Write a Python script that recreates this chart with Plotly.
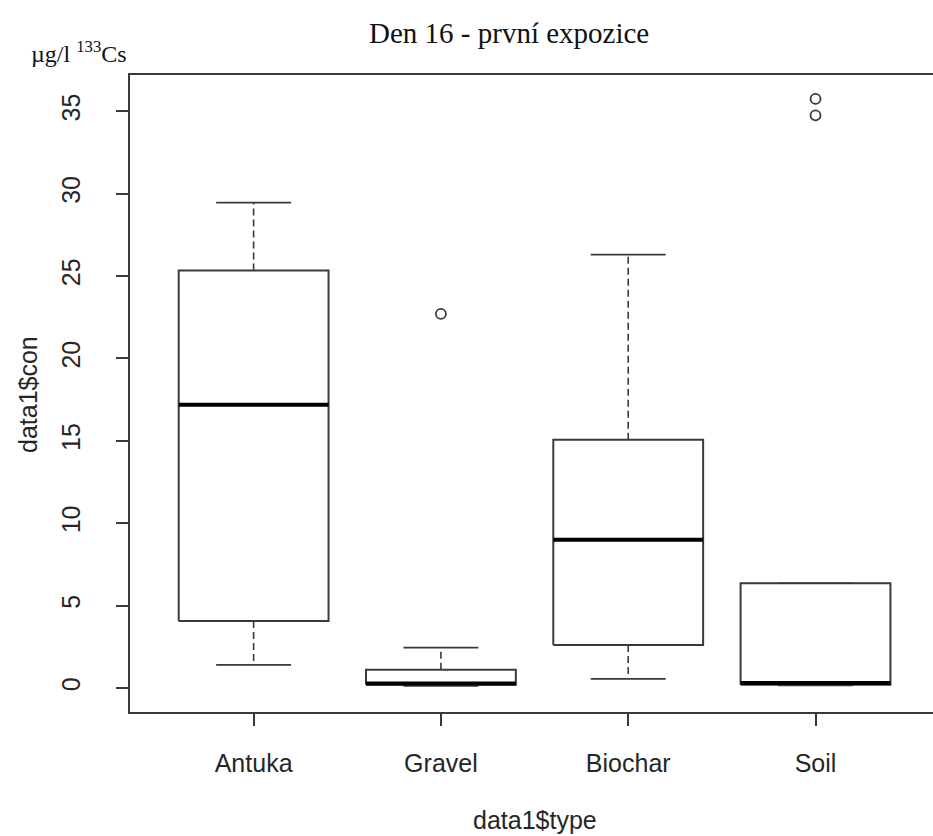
import plotly.graph_objects as go

categories = ["Antuka", "Gravel", "Biochar", "Soil"]
lower_whisker = [1.4, 0.12, 0.55, 0.15]
q1 = [4.07, 0.2, 2.6, 0.2]
median = [17.19, 0.27, 9.0, 0.3]
q3 = [25.33, 1.1, 15.07, 6.35]
upper_whisker = [29.46, 2.45, 26.3, 6.35]
outlier_group = ["Gravel", "Soil", "Soil"]
outlier_values = [22.7, 35.75, 34.75]
y_ticks = [0, 5, 10, 15, 20, 25, 30, 35]

W, H = 933, 836
L, R, T, B = 130, 0, 75, 124
BOXW = 0.4   # half box width (boxwex 0.8)
CAPW = 0.2   # half staple width
LINE = "#3a3a3a"

fig = go.Figure()
pos = {c: i + 1 for i, c in enumerate(categories)}

for i, c in enumerate(categories):
    x0 = pos[c]
    fig.add_trace(go.Scatter(x=[x0, x0, None, x0, x0],
                             y=[q3[i], upper_whisker[i], None, q1[i], lower_whisker[i]],
                             mode="lines", line=dict(color=LINE, width=1.6, dash="7px,4px"),
                             hoverinfo="skip", showlegend=False))
    fig.add_trace(go.Scatter(x=[x0 - CAPW, x0 + CAPW, None, x0 - CAPW, x0 + CAPW],
                             y=[upper_whisker[i], upper_whisker[i], None, lower_whisker[i], lower_whisker[i]],
                             mode="lines", line=dict(color=LINE, width=1.8),
                             hoverinfo="skip", showlegend=False))
    fig.add_trace(go.Scatter(x=[x0 - BOXW, x0 + BOXW, x0 + BOXW, x0 - BOXW, x0 - BOXW],
                             y=[q1[i], q1[i], q3[i], q3[i], q1[i]],
                             mode="lines", fill="toself", fillcolor="white",
                             line=dict(color=LINE, width=2),
                             hoverinfo="skip", showlegend=False))
    fig.add_trace(go.Scatter(x=[x0 - BOXW, x0 + BOXW], y=[median[i], median[i]],
                             mode="lines", line=dict(color="black", width=4),
                             hoverinfo="skip", showlegend=False))

fig.add_trace(go.Scatter(x=[pos[g] for g in outlier_group], y=outlier_values,
                         mode="markers",
                         marker=dict(symbol="circle-open", size=10, color=LINE, line=dict(width=1.8)),
                         showlegend=False))

pw = W - L - R
ph = H - T - B
def px(x):
    return (x - L) / pw
def py(y):
    return (H - B - y) / ph

sans = "Liberation Sans, Arial, sans-serif"
serif = "Liberation Serif, Times New Roman, serif"
TXT = "#262626"

fig.update_layout(
    width=W, height=H,
    margin=dict(l=L, r=R, t=T, b=B),
    paper_bgcolor="white", plot_bgcolor="white",
    xaxis=dict(range=[0.34, 0.34 + pw / 187.3],
               tickmode="array", tickvals=[1, 2, 3, 4], ticktext=categories,
               showline=True, mirror=True, linecolor=LINE, linewidth=2,
               ticks="outside", ticklen=12, tickwidth=1.5, tickcolor=LINE,
               showgrid=False, zeroline=False,
               tickfont=dict(family=sans, size=25, color=TXT),
               ticklabelstandoff=16),
    yaxis=dict(range=[-1.46, 37.2],
               tickmode="array", tickvals=y_ticks,
               showline=True, mirror=False, linecolor=LINE, linewidth=2,
               ticks="outside", ticklen=12, tickwidth=1.5, tickcolor=LINE,
               showgrid=False, zeroline=False, tickangle=-90,
               tickfont=dict(family=sans, size=25, color=TXT),
               ticklabelstandoff=26),
    annotations=[
        dict(text="Den 16 - první expozice", x=px(509), y=py(33), xref="paper", yref="paper",
             showarrow=False, font=dict(family=serif, size=29, color="#111"),
             xanchor="center", yanchor="middle"),
        dict(text="µg/l <sup>133</sup>Cs", x=px(29), y=py(52), xref="paper", yref="paper",
             showarrow=False, font=dict(family=serif, size=24, color="#111"),
             xanchor="left", yanchor="middle"),
        dict(text="data1$con", x=px(28), y=py(395), xref="paper", yref="paper",
             showarrow=False, textangle=-90, font=dict(family=sans, size=25, color=TXT),
             xanchor="center", yanchor="middle"),
        dict(text="data1$type", x=px(535), y=py(820), xref="paper", yref="paper",
             showarrow=False, font=dict(family=sans, size=25, color=TXT),
             xanchor="center", yanchor="middle"),
    ],
)

fig.write_html("out.html")
